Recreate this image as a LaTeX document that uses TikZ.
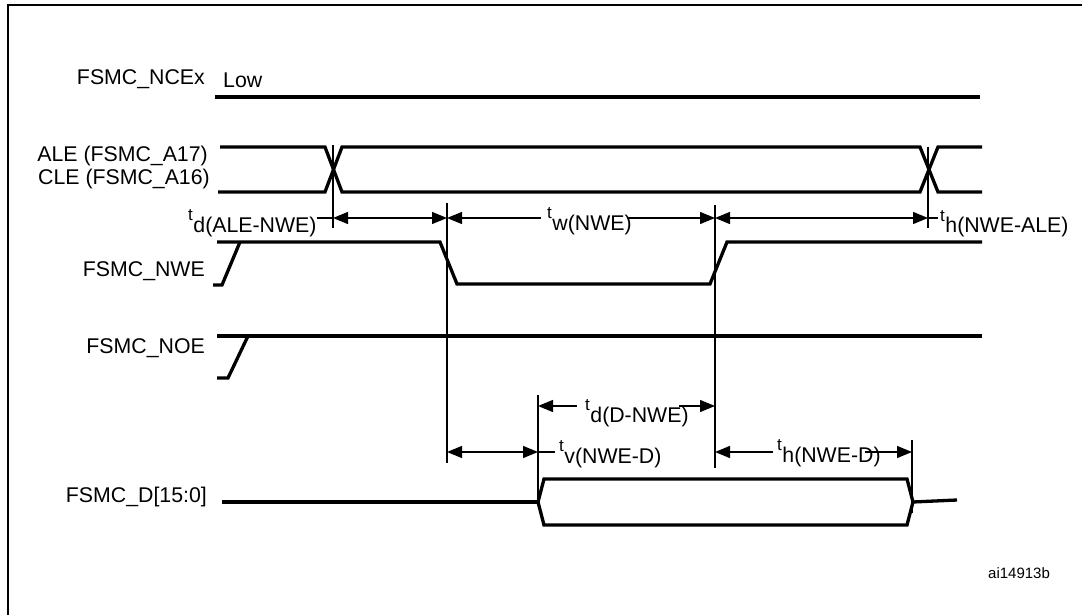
\documentclass[tikz,border=0pt]{standalone}
\usepackage{fontspec}
\setmainfont{Liberation Sans}
\usetikzlibrary{arrows.meta}
\newcommand\tlab[2]{\raisebox{12pt}{\fontsize{17}{17}\selectfont t}\hspace{0.5pt}#1#2}
\begin{document}
\begin{tikzpicture}[x=1pt,y=-1pt,
  sig/.style={line width=3.3pt, line join=miter},
  thinl/.style={line width=1.3pt},
  >={Triangle[length=15pt,width=12pt]},
  lbl/.style={inner sep=0pt, font=\fontsize{21.3}{25}\selectfont}]
\useasboundingbox (0,0) rectangle (1082,615);
% frame
\draw[line width=2.7pt] (8,615) -- (8,5) -- (1082,5);
% row reference coordinates
\coordinate (r1) at (0,218);
\coordinate (r2) at (0,406);
\coordinate (r3) at (0,452);
% signal labels
\node[lbl, anchor=base east] (ncex) at (205,85) {FSMC\_NCEx};
\node[lbl, anchor=base west] (low) at (223,88) {Low};
\node[lbl, anchor=base east] (ale) at (208,162) {ALE (FSMC\_A17)};
\node[lbl, anchor=base east] (cle) at (210,184) {CLE (FSMC\_A16)};
\node[lbl, anchor=base east] (nwe) at (205,276) {FSMC\_NWE};
\node[lbl, anchor=base east] (noe) at (205,353) {FSMC\_NOE};
\node[lbl, anchor=base east] (dbus) at (207,502) {FSMC\_D[15:0]};
\node[inner sep=0pt, anchor=base west, font=\fontsize{15}{18}\selectfont] (id) at (988,578) {ai14913b};
% waveforms
\draw[sig] (215,97) -- (980,97);
\draw[sig] (220,147) -- (325,147) -- (342,192) -- (920,192) -- (938,147) -- (982,147);
\draw[sig] (218,192) -- (325,192) -- (342,147) -- (920,147) -- (938,192) -- (982,192);
\draw[sig] (213,285) -- (222,285) -- (240,242);
\draw[sig] (217,242) -- (440,242) -- (457,284) -- (710,284) -- (727,242) -- (982,242);
\draw[sig] (217,378) -- (228,378) -- (248,336);
\draw[sig] (217,336) -- (982,336);
\draw[sig] (222,502) -- (538,502);
\draw[sig] (538,502) -- (544,479) -- (907,479) -- (913,502) -- (907,525) -- (544,525) -- cycle;
\draw[sig] (913,502) -- (957,500);
% vertical markers
\draw[thinl] (333,145) -- (333,228);
\draw[thinl] (447,203) -- (447,463);
\draw[thinl] (715,205) -- (715,468);
\draw[thinl] (928,147) -- (928,228);
\draw[thinl] (538,395) -- (538,502);
\draw[thinl] (912,440) -- (912,513);
% timing labels
\node[lbl, anchor=base west] (tdale) at (188,232) {\tlab{d}{(ALE-NWE)}};
\node[lbl, anchor=base west] (tw) at (547,230) {\tlab{w}{(NWE)}};
\node[lbl, anchor=base west] (thale) at (940,233) {\tlab{h}{(NWE-ALE)}};
\node[lbl, anchor=base west] (tdd) at (585,422) {\tlab{d}{(D-NWE)}};
\node[lbl, anchor=base west] (tv) at (559,463) {\tlab{v}{(NWE-D)}};
\node[lbl, anchor=base west] (thd) at (777,462) {\tlab{h}{(NWE-D)}};
% timing arrows row 1
\draw[thinl] (tdale.east |- r1) -- (333,218);
\draw[thinl,<->] (333,218) -- (447,218);
\draw[thinl,<-] (447,218) -- ([xshift=-6pt]tw.west |- r1);
\draw[thinl,->] ([xshift=-5pt]tw.east |- r1) -- (715,218);
\draw[thinl,<->] (715,218) -- (928,218);
\draw[thinl] (928,218) -- ([xshift=-2pt]thale.west |- r1);
% row 2
\draw[thinl,<-] (538,406) -- ([xshift=-8pt]tdd.west |- r2);
\draw[thinl,->] ([xshift=-10pt]tdd.east |- r2) -- (715,406);
% row 3
\draw[thinl,<->] (447,452) -- (538,452);
\draw[thinl] (538,452) -- ([xshift=-4pt]tv.west |- r3);
\draw[thinl,<-] (715,452) -- ([xshift=-4pt]thd.west |- r3);
\draw[thinl,->] ([xshift=-16pt]thd.east |- r3) -- (912,452);
\end{tikzpicture}
\end{document}
